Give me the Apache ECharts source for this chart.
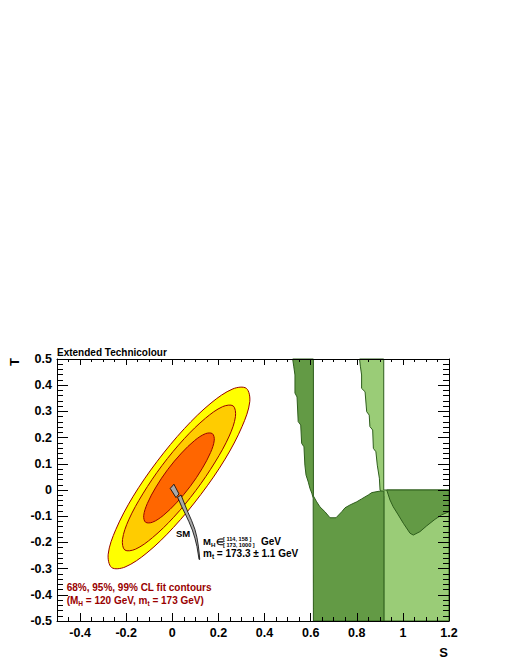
<!DOCTYPE html>
<html><head><meta charset="utf-8">
<script src="https://cdn.jsdelivr.net/npm/echarts@6/dist/echarts.min.js"></script>
<style>html,body{margin:0;padding:0;background:#fff}#c{width:510px;height:660px}</style>
</head><body><div id="c"></div>
<script>
const FONT = '"Liberation Sans", Arial, Helvetica, sans-serif';

// axis ranges and tick labels
const xRange = [-0.5, 1.2];
const yRange = [-0.5, 0.5];
const xMajorTicks = [-0.4, -0.2, 0, 0.2, 0.4, 0.6, 0.8, 1, 1.2];

// fit contours [S, T]
const cl99 = [[0.321,0.388],[0.336,0.337],[0.303,0.243],[0.229,0.118],[0.124,-0.017],[0.005,-0.143],[-0.110,-0.240],[-0.205,-0.294],[-0.263,-0.296],[-0.278,-0.245],[-0.245,-0.151],[-0.171,-0.026],[-0.066,0.109],[0.053,0.235],[0.168,0.332],[0.263,0.386]];
const cl95 = [[0.264,0.321],[0.274,0.281],[0.247,0.206],[0.186,0.107],[0.102,-0.002],[0.006,-0.104],[-0.086,-0.182],[-0.160,-0.226],[-0.206,-0.229],[-0.216,-0.189],[-0.189,-0.114],[-0.128,-0.015],[-0.044,0.094],[0.052,0.196],[0.144,0.274],[0.218,0.318]];
const cl68 = [[0.174,0.215],[0.182,0.190],[0.166,0.143],[0.129,0.081],[0.078,0.014],[0.018,-0.049],[-0.039,-0.097],[-0.086,-0.123],[-0.116,-0.123],[-0.124,-0.098],[-0.108,-0.051],[-0.071,0.011],[-0.020,0.078],[0.040,0.141],[0.097,0.189],[0.144,0.215]];

// SM prediction
const smBox = [[-0.009,0.006],[0.007,0.022],[0.029,-0.015],[0.016,-0.029]];
const smBandLeft = [[0.023,-0.028],[0.041,-0.064],[0.055,-0.089],[0.072,-0.121],[0.087,-0.153],[0.098,-0.184],[0.107,-0.216],[0.113,-0.248],[0.116,-0.265]];
const smBandRight = [[0.038,-0.019],[0.055,-0.057],[0.069,-0.087],[0.084,-0.117],[0.098,-0.150],[0.107,-0.181],[0.113,-0.214],[0.117,-0.244],[0.119,-0.265]];

// Majorana technilepton regions
const ntc2Region = [[0.612,0.5],[0.612,-0.023],[0.626,-0.045],[0.640,-0.064],[0.662,-0.083],[0.684,-0.106],[0.710,-0.106],[0.735,-0.083],[0.749,-0.068],[0.771,-0.057],[0.800,-0.045],[0.821,-0.034],[0.850,-0.019],[0.865,-0.010],[0.901,-0.004],[0.918,-0.004],[0.918,-0.5],[0.612,-0.5],[0.611,-0.031],[0.605,-0.012],[0.597,0.006],[0.590,0.030],[0.580,0.057],[0.575,0.095],[0.571,0.165],[0.561,0.178],[0.557,0.248],[0.546,0.261],[0.541,0.355],[0.532,0.370],[0.532,0.439],[0.527,0.470],[0.522,0.5]];
const ntc3Region = [[0.812,0.5],[0.816,0.470],[0.821,0.439],[0.821,0.388],[0.836,0.375],[0.843,0.299],[0.854,0.286],[0.857,0.242],[0.869,0.229],[0.872,0.159],[0.883,0.146],[0.889,0.095],[0.898,0.045],[0.901,0.0],[0.908,-0.005],[0.917,-0.025],[0.917,-0.5],[1.2,-0.5],[1.2,0.0],[0.917,0.0],[0.917,0.5]];
const ntc2RightRegion = [[0.930,0.0],[1.2,0.0],[1.2,-0.083],[1.168,-0.095],[1.139,-0.112],[1.103,-0.137],[1.074,-0.159],[1.045,-0.172],[1.031,-0.165],[1.002,-0.127],[0.980,-0.095],[0.958,-0.064],[0.944,-0.038]];

const smBand = smBandLeft.concat(smBandRight.slice().reverse());

function polySeries(name, pts, fill, stroke, lw, smooth) {
  return {
    type: 'custom', name: name, xAxisIndex: 0, yAxisIndex: 0, silent: true, animation: false,
    data: pts, encode: { x: 0, y: 1 },
    renderItem: function (params, api) {
      if (params.dataIndex !== 0) return null;
      const P = pts.map(function (p) { return api.coord(p); });
      return { type: 'polygon', shape: { points: P, smooth: smooth || 0 },
               style: { fill: fill, stroke: stroke, lineWidth: lw, lineJoin: 'miter' } };
    }
  };
}

// text helpers
const mctx = document.createElement('canvas').getContext('2d');
function tw(t, fs) { mctx.font = 'bold ' + fs + 'px ' + FONT; return mctx.measureText(t).width; }
function line(parts, x, baseline, color, size) {
  let cx = x; const out = [];
  parts.forEach(function (p) {
    const sub = p[1] === 1;
    const fs = sub ? size * 0.65 : size;
    const yb = sub ? baseline + 2 : baseline;
    out.push({ type: 'text', x: cx, y: yb - 0.35 * fs, silent: true,
      style: { text: p[0], font: 'bold ' + fs + 'px ' + FONT, fill: color, align: 'left', verticalAlign: 'middle' } });
    cx += tw(p[0], fs);
  });
  return out;
}
const RED = '#990000';
let texts = [];
texts = texts.concat(line([['Extended Technicolour']], 57, 356, '#000', 10));
texts = texts.concat(line([['SM']], 176, 537, '#000', 9.5));
texts = texts.concat(line([['M'], ['H', 1]], 203, 545, '#000', 9.5));
texts = texts.concat(line([['\u2208']], 216, 545, '#000', 8.5));
texts = texts.concat(line([['[ 114, 158 ]']], 223, 540.6, '#000', 5.6));
texts = texts.concat(line([['[ 173, 1000 ]']], 223, 547.0, '#000', 5.6));
texts = texts.concat(line([['GeV']], 261, 545, '#000', 10));
texts = texts.concat(line([['m'], ['t', 1], [' = 173.3 \u00b1 1.1 GeV']], 203, 556.5, '#000', 10));
texts = texts.concat(line([['N'], ['TC', 1], [' = 2']], 322.7, 556, '#000', 10));
texts = texts.concat(line([['N'], ['TC', 1], [' = 3']], 390.7, 556, '#000', 10));
texts = texts.concat(line([['Majorana Technileptons']], 313.3, 582.5, '#000', 10));
texts = texts.concat(line([['100 GeV < m'], ['E', 1], [' < 1000 GeV']], 313.3, 596.5, '#000', 10));
texts = texts.concat(line([['50 GeV < m'], ['N', 1], [' < m'], ['E', 1]], 313.3, 610, '#000', 10));
texts = texts.concat(line([['68%, 95%, 99% CL fit contours']], 66.7, 591, RED, 10));
texts = texts.concat(line([['(M'], ['H', 1], [' = 120 GeV, m'], ['t', 1], [' = 173 GeV)']], 66.7, 603.5, RED, 10));
texts.push({ type: 'text', x: 14, y: 362, rotation: Math.PI / 2, silent: true,
  style: { text: 'T', font: 'bold 13px ' + FONT, fill: '#000', align: 'center', verticalAlign: 'middle' } });
texts.push({ type: 'text', x: 448, y: 652.5, silent: true,
  style: { text: 'S', font: 'bold 13px ' + FONT, fill: '#000', align: 'right', verticalAlign: 'middle' } });

const fmt = function (v) { return String(Math.round(v * 10) / 10); };
const lblStyle = { color: '#000', fontFamily: FONT, fontWeight: 'bold', fontSize: 12.5 };
const lineK = { show: true, onZero: false, lineStyle: { color: '#000', width: 1 } };
const noLine = { show: false, onZero: false };

const option = {
  backgroundColor: '#fff',
  animation: false,
  grid: { left: 57, right: 61, top: 359, bottom: 39, containLabel: false },
  xAxis: [
    { type: 'value', position: 'bottom', min: xRange[0], max: xRange[1], z: 10,
      axisLine: lineK, splitLine: { show: false },
      axisTick: { show: true, inside: true, length: 8, customValues: xMajorTicks, lineStyle: { color: '#000' } },
      axisLabel: Object.assign({ customValues: xMajorTicks, margin: 5, formatter: fmt }, lblStyle) },
    { type: 'value', position: 'bottom', min: xRange[0], max: xRange[1], interval: 0.05, z: 10,
      axisLine: noLine, splitLine: { show: false }, axisLabel: { show: false },
      axisTick: { show: true, inside: true, length: 4, lineStyle: { color: '#000' } } },
    { type: 'value', position: 'top', min: xRange[0], max: xRange[1], z: 10,
      axisLine: lineK, splitLine: { show: false }, axisLabel: { show: false },
      axisTick: { show: true, inside: true, length: 6, customValues: xMajorTicks, lineStyle: { color: '#000' } } },
    { type: 'value', position: 'top', min: xRange[0], max: xRange[1], interval: 0.05, z: 10,
      axisLine: noLine, splitLine: { show: false }, axisLabel: { show: false },
      axisTick: { show: true, inside: true, length: 3, lineStyle: { color: '#000' } } }
  ],
  yAxis: [
    { type: 'value', position: 'left', min: yRange[0], max: yRange[1], interval: 0.1, z: 10,
      axisLine: lineK, splitLine: { show: false },
      axisTick: { show: true, inside: true, length: 11, lineStyle: { color: '#000' } },
      minorTick: { show: true, splitNumber: 5, length: 6, lineStyle: { color: '#000' } },
      minorSplitLine: { show: false },
      axisLabel: Object.assign({ margin: 5, formatter: fmt }, lblStyle) },
    { type: 'value', position: 'right', min: yRange[0], max: yRange[1], interval: 0.1, z: 10,
      axisLine: lineK, splitLine: { show: false }, axisLabel: { show: false },
      axisTick: { show: true, inside: true, length: 11, lineStyle: { color: '#000' } },
      minorTick: { show: true, splitNumber: 5, length: 6, lineStyle: { color: '#000' } },
      minorSplitLine: { show: false } }
  ],
  series: [
    polySeries('N_TC = 3', ntc3Region, '#9acc77', '#2e5e1c', 1, 0),
    polySeries('N_TC = 2', ntc2Region, '#639a45', '#2e5e1c', 1, 0),
    polySeries('N_TC = 2 (right)', ntc2RightRegion, '#639a45', '#2e5e1c', 1, 0),
    polySeries('99% CL', cl99, '#ffff00', '#990000', 1, 0.34),
    polySeries('95% CL', cl95, '#ffcc00', '#990000', 1, 0.34),
    polySeries('68% CL', cl68, '#ff6600', '#990000', 1, 0.34),
    polySeries('SM band', smBand, '#a8a8a8', '#000', 0.8, 0),
    polySeries('SM', smBox, '#a8a8a8', '#000', 0.8, 0)
  ],
  graphic: texts
};

const chart = echarts.init(document.getElementById('c'), null, { renderer: 'svg', width: 510, height: 660 });
chart.setOption(option);
</script>
</body></html>
